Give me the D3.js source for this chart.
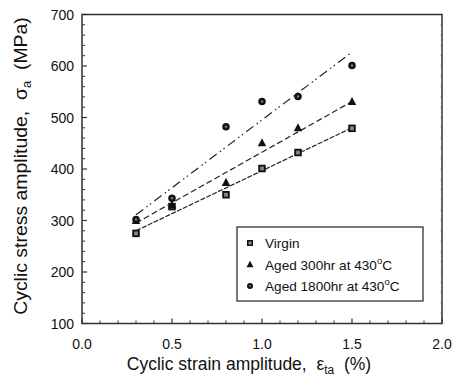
<!DOCTYPE html>
<html>
<head>
<meta charset="utf-8">
<script src="https://cdn.jsdelivr.net/npm/d3@7"></script>
<style>
  body { margin: 0; background: #fff; }
  text { font-family: Arial, "Liberation Sans", sans-serif; fill: #111; white-space: pre; }
</style>
</head>
<body>
<div id="chart"></div>
<script>
// strain amplitude (%)
const strain = [0.3, 0.5, 0.8, 1.0, 1.2, 1.5]
const virgin = [275, 327, 350, 401, 432, 479]
const aged300 = [300, 330, 374, 451, 480, 531]
const aged1800 = [302, 343, 482, 531, 541, 601]

// fitted lines, value at strain 0.3 and 1.5
const fitX = [0.3, 1.5]
const fitVirgin = [280, 480]
const fitAged300 = [295, 531]
const fitAged1800 = [311, 627]

const xTicks = [0.0, 0.5, 1.0, 1.5, 2.0]
const yTicks = [100, 200, 300, 400, 500, 600, 700]
const legendLabels = ['Virgin', 'Aged 300hr at 430', 'Aged 1800hr at 430']

const width = 458, height = 376
const padding = { left: 82, top: 14.5, right: 16, bottom: 52.5 }

const x = d3.scaleLinear().domain([0, 2]).range([padding.left, width - padding.right])
const y = d3.scaleLinear().domain([100, 700]).range([height - padding.bottom, padding.top])

const svg = d3.select('#chart').append('svg')
    .attr('width', width)
    .attr('height', height)

// minor ticks
const xMinor = d3.range(0, 2.0001, 0.1).filter(d => Math.abs(d * 2 - Math.round(d * 2)) > 1e-6)
const yMinor = d3.range(100, 701, 20).filter(d => d % 100 !== 0)

const axisColor = '#333'
const tickG = svg.append('g').attr('stroke', axisColor)

tickG.selectAll('.xmaj').data(xTicks).join('line')
    .attr('x1', d => x(d)).attr('x2', d => x(d))
    .attr('y1', y(100)).attr('y2', y(100) - 5)
    .attr('stroke-width', 1.2)
tickG.selectAll('.xmin').data(xMinor).join('line')
    .attr('x1', d => x(d)).attr('x2', d => x(d))
    .attr('y1', y(100)).attr('y2', y(100) - 3)
    .attr('stroke-width', 1)
tickG.selectAll('.ymaj').data(yTicks).join('line')
    .attr('x1', x(0)).attr('x2', x(0) + 5)
    .attr('y1', d => y(d)).attr('y2', d => y(d))
    .attr('stroke-width', 1.2)
tickG.selectAll('.ymin').data(yMinor).join('line')
    .attr('x1', x(0)).attr('x2', x(0) + 3)
    .attr('y1', d => y(d)).attr('y2', d => y(d))
    .attr('stroke-width', 1)
// faint mirrored ticks on right edge
tickG.selectAll('.yr').data(yMinor.concat(yTicks)).join('line')
    .attr('x1', x(2)).attr('x2', x(2) - 2)
    .attr('y1', d => y(d)).attr('y2', d => y(d))
    .attr('stroke', '#bbb')
    .attr('stroke-width', 0.8)

// frame
svg.append('rect')
    .attr('x', x(0)).attr('y', y(700))
    .attr('width', x(2) - x(0)).attr('height', y(100) - y(700))
    .attr('fill', 'none')
    .attr('stroke', axisColor)
    .attr('stroke-width', 1.5)

// tick labels
svg.selectAll('.xlab').data(xTicks).join('text')
    .attr('x', d => x(d)).attr('y', y(100) + 25)
    .attr('text-anchor', 'middle')
    .attr('font-size', 14)
    .text(d3.format('.1f'))
svg.selectAll('.ylab').data(yTicks).join('text')
    .attr('x', x(0) - 8).attr('y', d => y(d) + 5)
    .attr('text-anchor', 'end')
    .attr('font-size', 14)
    .text(d => d)

// axis titles
const xt = svg.append('text')
    .attr('x', 249).attr('y', 370)
    .attr('text-anchor', 'middle')
    .attr('font-size', 17.5)
xt.append('tspan').text('Cyclic strain amplitude,  \u03b5')
xt.append('tspan').attr('font-size', 12).attr('dy', 4).text('ta')
xt.append('tspan').attr('dy', -4).text('  (%)')

const yt = svg.append('text')
    .attr('transform', `translate(27, 166) rotate(-90) scale(1.08, 1)`)
    .attr('text-anchor', 'middle')
    .attr('font-size', 18)
yt.append('tspan').text('Cyclic stress amplitude,  \u03c3')
yt.append('tspan').attr('font-size', 12).attr('dy', 4).text('a')
yt.append('tspan').attr('dy', -4).text('  (MPa)')

// fit lines
const fits = [
    { v: fitVirgin, dash: '5,1.5' },
    { v: fitAged300, dash: '6,3' },
    { v: fitAged1800, dash: '9,4,1.5,3,1.5,4' }
]
const line = d3.line().x((d, i) => x(fitX[i])).y(d => y(d))
svg.selectAll('.fit').data(fits).join('path')
    .attr('d', d => line(d.v))
    .attr('fill', 'none')
    .attr('stroke', '#222')
    .attr('stroke-width', 1.2)
    .attr('stroke-dasharray', d => d.dash)

// markers
function drawMarker(g, type, cx, cy, s) {
    if (type === 'square') {
        g.append('rect').attr('x', cx - s / 2).attr('y', cy - s / 2)
            .attr('width', s).attr('height', s).attr('fill', '#111')
        g.append('rect').attr('x', cx - s / 4).attr('y', cy - s / 4)
            .attr('width', s / 2).attr('height', s / 2).attr('fill', '#888')
    } else if (type === 'triangle') {
        const h = s * 0.95
        g.append('path')
            .attr('d', `M${cx},${cy - h / 2 - 1}L${cx + s / 2 + 0.5},${cy + h / 2}L${cx - s / 2 - 0.5},${cy + h / 2}Z`)
            .attr('fill', '#111')
    } else {
        g.append('circle').attr('cx', cx).attr('cy', cy).attr('r', s / 2).attr('fill', '#111')
        g.append('circle').attr('cx', cx).attr('cy', cy).attr('r', s / 6).attr('fill', '#777')
    }
}

const series = [
    { v: virgin, type: 'square' },
    { v: aged300, type: 'triangle' },
    { v: aged1800, type: 'circle' }
]
const markG = svg.append('g')
series.forEach(s => {
    s.v.forEach((d, i) => drawMarker(markG, s.type, x(strain[i]), y(d), 7.5))
})

// legend
const lg = svg.append('g')
lg.append('rect')
    .attr('x', 237).attr('y', 227)
    .attr('width', 186).attr('height', 74)
    .attr('fill', '#fff')
    .attr('stroke', '#222')
    .attr('stroke-width', 1.2)
series.forEach((s, i) => {
    const ly = 243 + i * 21.5
    drawMarker(lg, s.type, 250, ly, 6)
    const t = lg.append('text')
        .attr('x', 265).attr('y', ly + 5)
        .attr('font-size', 13.6)
    t.append('tspan').text(legendLabels[i])
    if (i > 0) {
        t.append('tspan').attr('font-size', 9.5).attr('dy', -6).text('o')
        t.append('tspan').attr('dy', 6).text('C')
    }
})
</script>
</body>
</html>
